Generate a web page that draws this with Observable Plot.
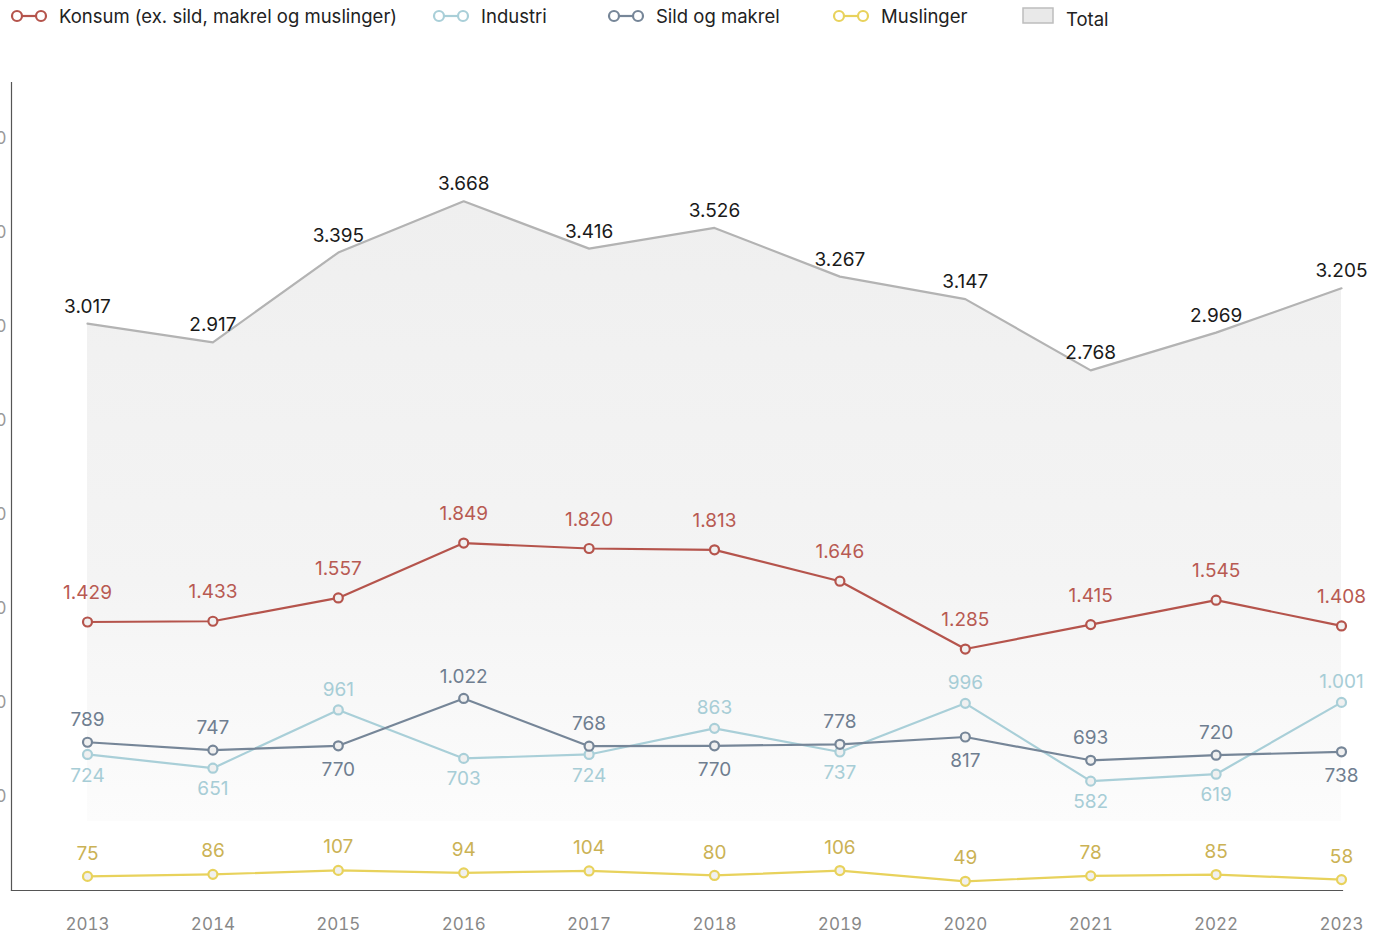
<!DOCTYPE html>
<html>
<head>
<meta charset="utf-8">
<script src="https://cdn.jsdelivr.net/npm/d3@7"></script>
<script src="https://cdn.jsdelivr.net/npm/@observablehq/plot@0.6"></script>
<style>
  html, body { margin: 0; padding: 0; background: #fff; }
  body { width: 1381px; font-family: Inter, "Noto Sans", sans-serif; }
  #legend { position: relative; height: 40px; font-size: 18.5px; color: #222; }
  #legend .sym { position: absolute; top: 9px; }
  #legend .lab { position: absolute; top: 4px; line-height: 24px; white-space: nowrap; }
  #chart svg { display: block; }
</style>
</head>
<body>
<div id="legend"></div>
<div id="chart"></div>
<script>
const years = [2013, 2014, 2015, 2016, 2017, 2018, 2019, 2020, 2021, 2022, 2023];
const konsum = [1429, 1433, 1557, 1849, 1820, 1813, 1646, 1285, 1415, 1545, 1408];
const industri = [724, 651, 961, 703, 724, 863, 737, 996, 582, 619, 1001];
const sild = [789, 747, 770, 1022, 768, 770, 778, 817, 693, 720, 738];
const muslinger = [75, 86, 107, 94, 104, 80, 106, 49, 78, 85, 58];
const total = [3017, 2917, 3395, 3668, 3416, 3526, 3267, 3147, 2768, 2969, 3205];
const yTicks = [500, 1000, 1500, 2000, 2500, 3000, 3500, 4000];

const seriesNames = ["Konsum (ex. sild, makrel og muslinger)", "Industri", "Sild og makrel", "Muslinger"];
const colors = {
  konsum: "#b5544c", industri: "#a9cfd8", sild: "#768698", muslinger: "#e8d25c", total: "#b3b3b3"
};
const labelColors = {
  konsum: "#b85a52", industri: "#a7cdd6", sild: "#6f7e90", muslinger: "#cbb255", total: "#1a1a1a"
};

const fmt = d => d3.format(",")(d).replace(/,/g, ".");

// Legend
const legend = document.getElementById("legend");
const legendItems = [
  {name: seriesNames[0], key: "konsum", sx: 10, tx: 59},
  {name: seriesNames[1], key: "industri", sx: 432, tx: 481},
  {name: seriesNames[2], key: "sild", sx: 607, tx: 656},
  {name: seriesNames[3], key: "muslinger", sx: 832, tx: 881}
];
for (const it of legendItems) {
  const c = colors[it.key];
  legend.insertAdjacentHTML("beforeend",
    `<svg class="sym" style="left:${it.sx}px" width="38" height="14"><line x1="7" y1="7" x2="31" y2="7" stroke="${c}" stroke-width="2.2"/><circle cx="7" cy="7" r="5" fill="#fff" stroke="${c}" stroke-width="2.2"/><circle cx="31" cy="7" r="5" fill="#fff" stroke="${c}" stroke-width="2.2"/></svg>` +
    `<span class="lab" style="left:${it.tx}px">${it.name}</span>`);
}
legend.insertAdjacentHTML("beforeend",
  `<svg class="sym" style="left:1022px;top:7px" width="33" height="18"><rect x="1" y="1" width="30" height="15" fill="#e9e9e9" stroke="#bdbdbd" stroke-width="1.5"/></svg>` +
  `<span class="lab" style="left:1066px;top:7px">Total</span>`);

// Data table
const rows = years.map((year, i) => ({
  year, konsum: konsum[i], industri: industri[i], sild: sild[i], muslinger: muslinger[i], total: total[i]
}));

const LF = 19; // data label font size
const lineSeries = ["konsum", "industri", "sild", "muslinger"];
const marks = [
  Plot.areaY(rows, {x: "year", y: "total", fill: "url(#totalGrad)"}),
  Plot.line(rows, {x: "year", y: "total", stroke: colors.total, strokeWidth: 2.2}),
  Plot.text(rows, {x: "year", y: "total", text: d => fmt(d.total), dy: -17, fill: labelColors.total, fontSize: LF})
];
for (const key of lineSeries) {
  marks.push(Plot.line(rows, {x: "year", y: key, stroke: colors[key], strokeWidth: 2.2}));
  marks.push(Plot.dot(rows, {x: "year", y: key, r: 4.5, stroke: colors[key], strokeWidth: 2.2, fill: "#f0f0f0"}));
}
// labels
marks.push(Plot.text(rows, {x: "year", y: "konsum", text: d => fmt(d.konsum), dy: -29, fill: labelColors.konsum, fontSize: LF}));
marks.push(Plot.text(rows, {x: "year", y: "muslinger", text: d => fmt(d.muslinger), dy: -23, fill: labelColors.muslinger, fontSize: LF}));
marks.push(Plot.text(rows.filter(d => d.industri >= d.sild), {x: "year", y: "industri", text: d => fmt(d.industri), dy: -20, fill: labelColors.industri, fontSize: LF}));
marks.push(Plot.text(rows.filter(d => d.industri < d.sild), {x: "year", y: "industri", text: d => fmt(d.industri), dy: 21, fill: labelColors.industri, fontSize: LF}));
marks.push(Plot.text(rows.filter(d => d.sild > d.industri), {x: "year", y: "sild", text: d => fmt(d.sild), dy: -22, fill: labelColors.sild, fontSize: LF}));
marks.push(Plot.text(rows.filter(d => d.sild <= d.industri), {x: "year", y: "sild", text: d => fmt(d.sild), dy: 24, fill: labelColors.sild, fontSize: LF}));

marks.push(Plot.axisY({ticks: yTicks, tickSize: 0, tickPadding: 5, tickFormat: fmt, fill: "#9a9a9a", fontSize: 17, label: null}));
marks.push(Plot.axisX({ticks: years, tickSize: 0, tickPadding: 27, tickFormat: d => String(d), fill: "#888", fontSize: 17, label: null}));
marks.push(Plot.frame({anchor: "left", stroke: "#555", strokeWidth: 1.2}));
marks.push(Plot.frame({anchor: "bottom", stroke: "#555", strokeWidth: 1.2}));

const svg = Plot.plot({
  width: 1381,
  height: 896,
  marginTop: 42,
  marginBottom: 46,
  marginLeft: 11,
  marginRight: 39,
  style: {fontFamily: "Inter, 'Noto Sans', sans-serif", fontSize: "17px", background: "transparent", overflow: "visible"},
  x: {type: "linear", domain: [2013, 2023], insetLeft: 76, insetRight: 1},
  y: {domain: [0, 4300]},
  marks
});

const defs = d3.select(svg).insert("defs", ":first-child");
const grad = defs.append("linearGradient").attr("id", "totalGrad").attr("x1", 0).attr("y1", 0).attr("x2", 0).attr("y2", 1);
grad.append("stop").attr("offset", "0%").attr("stop-color", "#efefef");
grad.append("stop").attr("offset", "55%").attr("stop-color", "#f4f4f4");
grad.append("stop").attr("offset", "90%").attr("stop-color", "#fcfcfc");
grad.append("stop").attr("offset", "90%").attr("stop-color", "#ffffff");
grad.append("stop").attr("offset", "100%").attr("stop-color", "#ffffff");

document.getElementById("chart").appendChild(svg);
</script>
</body>
</html>
